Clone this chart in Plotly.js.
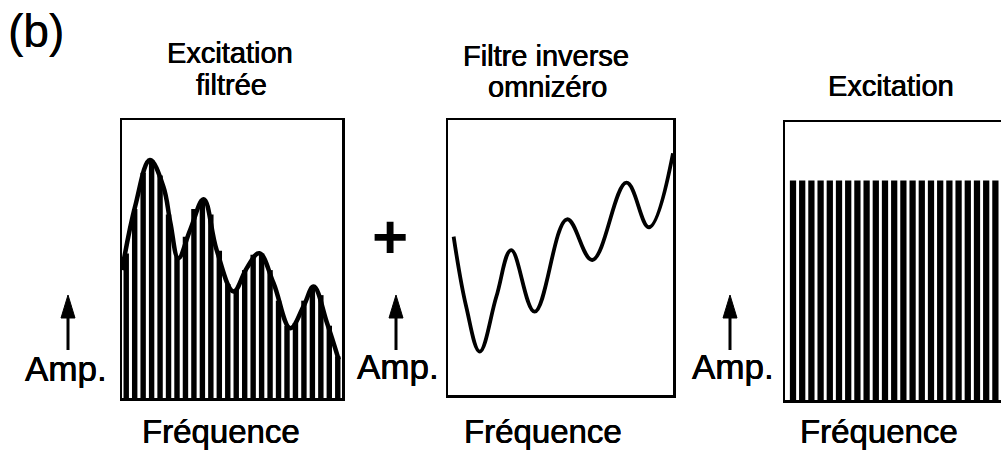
<!DOCTYPE html>
<html>
<head>
<meta charset="utf-8">
<script src="https://cdn.plot.ly/plotly-3.0.1.min.js"></script>
<style>html,body{margin:0;padding:0;background:#fff;}#chart{width:1001px;height:456px;}</style>
</head>
<body>
<div id="chart"></div>
<script>
// Panel 1: filtered excitation (harmonic bars under a spectral envelope)
const bins1 = [0,1,2,3,4,5,6,7,8,9,10,11,12,13,14,15,16,17,18,19,20,21,22,23,24,25];
const amp1  = [0.52,0.68,0.81,0.855,0.80,0.66,0.51,0.58,0.68,0.715,0.66,0.53,0.41,0.39,0.46,0.515,0.52,0.46,0.35,0.26,0.27,0.35,0.40,0.37,0.26,0.15];
const env1X = [-0.5,1.06,2.80,4.39,5.22,6.16,7.56,9.15,10.68,12.68,14.24,15.72,17.41,19.39,20.95,22.15,23.73,25.11];
const env1Y = [0.46,0.69,0.856,0.76,0.63,0.503,0.605,0.715,0.533,0.383,0.467,0.521,0.413,0.251,0.33,0.401,0.27,0.138];
// Panel 2: all-zero inverse filter response
const inv2X = [0.025,0.081,0.141,0.215,0.281,0.385,0.529,0.641,0.793,0.893,1.0];
const inv2Y = [0.576,0.321,0.158,0.358,0.527,0.303,0.639,0.491,0.772,0.610,0.879];
// Panel 3: flat excitation
const bins3 = [0,1,2,3,4,5,6,7,8,9,10,11,12,13,14,15,16,17,18,19,20,21,22];
const amp3  = [0.79,0.79,0.79,0.79,0.79,0.79,0.79,0.79,0.79,0.79,0.79,0.79,0.79,0.79,0.79,0.79,0.79,0.79,0.79,0.79,0.79,0.79,0.79];

const titles = [
  {t:'Excitation', x:230, y:53},
  {t:'filtrée', x:231, y:85},
  {t:'Filtre inverse', x:546, y:56},
  {t:'omnizéro', x:547, y:87},
  {t:'Excitation', x:891, y:86}
];
const xLabels = [{x:221},{x:543},{x:879}];
const ampLabels = [{x:66, y:368},{x:398, y:366},{x:733, y:366}];
const arrows = [{x:68},{x:396},{x:730}];

const W = 1001, H = 456;
const px = v => v / W, py = v => 1 - v / H;
const FONT = 'Liberation Sans, Arial, sans-serif';
const SH = '0.3px 0 0 #000, -0.3px 0 0 #000';

const traces = [
  {type:'bar', x:bins1, y:amp1, width:0.64, marker:{color:'#000', line:{width:0}}, xaxis:'x', yaxis:'y', hoverinfo:'skip'},
  {type:'scatter', mode:'lines', x:env1X, y:env1Y, line:{color:'#000', width:4.5, shape:'spline', smoothing:1.1}, xaxis:'x', yaxis:'y', hoverinfo:'skip'},
  {type:'scatter', mode:'lines', x:inv2X, y:inv2Y, line:{color:'#000', width:3.8, shape:'spline', smoothing:1.1}, xaxis:'x2', yaxis:'y2', hoverinfo:'skip'},
  {type:'bar', x:bins3, y:amp3, width:0.68, marker:{color:'#000', line:{width:0}}, xaxis:'x3', yaxis:'y3', hoverinfo:'skip'}
];

const ax = (dom, range, mirror) => ({domain:dom, range:range, showline:true, linecolor:'#000', linewidth:2.5, mirror:mirror,
  showticklabels:false, ticks:'', showgrid:false, zeroline:false, fixedrange:true});

const annotations = [];
annotations.push({text:'(b)', xref:'paper', yref:'paper', x:px(6), y:py(31), xanchor:'left', yanchor:'middle', showarrow:false, font:{family:FONT, size:46, color:'#000', shadow:'0.2px 0 0 #000'}});
titles.forEach(d => annotations.push({text:d.t, xref:'paper', yref:'paper', x:px(d.x), y:py(d.y), xanchor:'center', yanchor:'middle', showarrow:false, font:{family:FONT, size:29, color:'#000', shadow:SH}}));
xLabels.forEach(d => annotations.push({text:'Fréquence', xref:'paper', yref:'paper', x:px(d.x), y:py(431), xanchor:'center', yanchor:'middle', showarrow:false, font:{family:FONT, size:33, color:'#000', shadow:SH}}));
ampLabels.forEach(d => annotations.push({text:'Amp.', xref:'paper', yref:'paper', x:px(d.x), y:py(d.y), xanchor:'center', yanchor:'middle', showarrow:false, font:{family:FONT, size:35, color:'#000', shadow:SH}}));
annotations.push({text:'<b>+</b>', xref:'paper', yref:'paper', x:px(390), y:py(236), xanchor:'center', yanchor:'middle', showarrow:false, font:{family:FONT, size:62, color:'#000'}});

const shapes = [];
arrows.forEach(d => {
  shapes.push({type:'line', xref:'paper', yref:'paper', x0:px(d.x), x1:px(d.x), y0:py(350), y1:py(312), line:{color:'#000', width:3}});
  shapes.push({type:'path', xref:'paper', yref:'paper', path:`M ${px(d.x)} ${py(295)} L ${px(d.x-7)} ${py(318)} L ${px(d.x+7)} ${py(318)} Z`, fillcolor:'#000', line:{color:'#000', width:1}});
});

const layout = {
  width:W, height:H, margin:{l:0, r:0, t:0, b:0}, paper_bgcolor:'#fff', plot_bgcolor:'#fff', showlegend:false,
  xaxis: ax([px(122), px(342)], [-0.5, 25.5], true),
  yaxis: ax([1-398/H, 1-120/H], [0, 1], true),
  xaxis2: ax([px(448), px(673)], [0, 1], true),
  yaxis2: ax([1-395/H, 1-120/H], [0, 1], true),
  xaxis3: ax([px(785), 1], [-0.87, 22.61], true),
  yaxis3: ax([1-400/H, 1-122/H], [0, 1], false),
  annotations: annotations,
  shapes: shapes
};
layout.xaxis2.anchor = 'y2'; layout.yaxis2.anchor = 'x2';
layout.xaxis3.anchor = 'y3'; layout.yaxis3.anchor = 'x3';
layout.xaxis.anchor = 'y'; layout.yaxis.anchor = 'x';

Plotly.newPlot('chart', traces, layout, {displayModeBar:false, staticPlot:true});
</script>
</body>
</html>
